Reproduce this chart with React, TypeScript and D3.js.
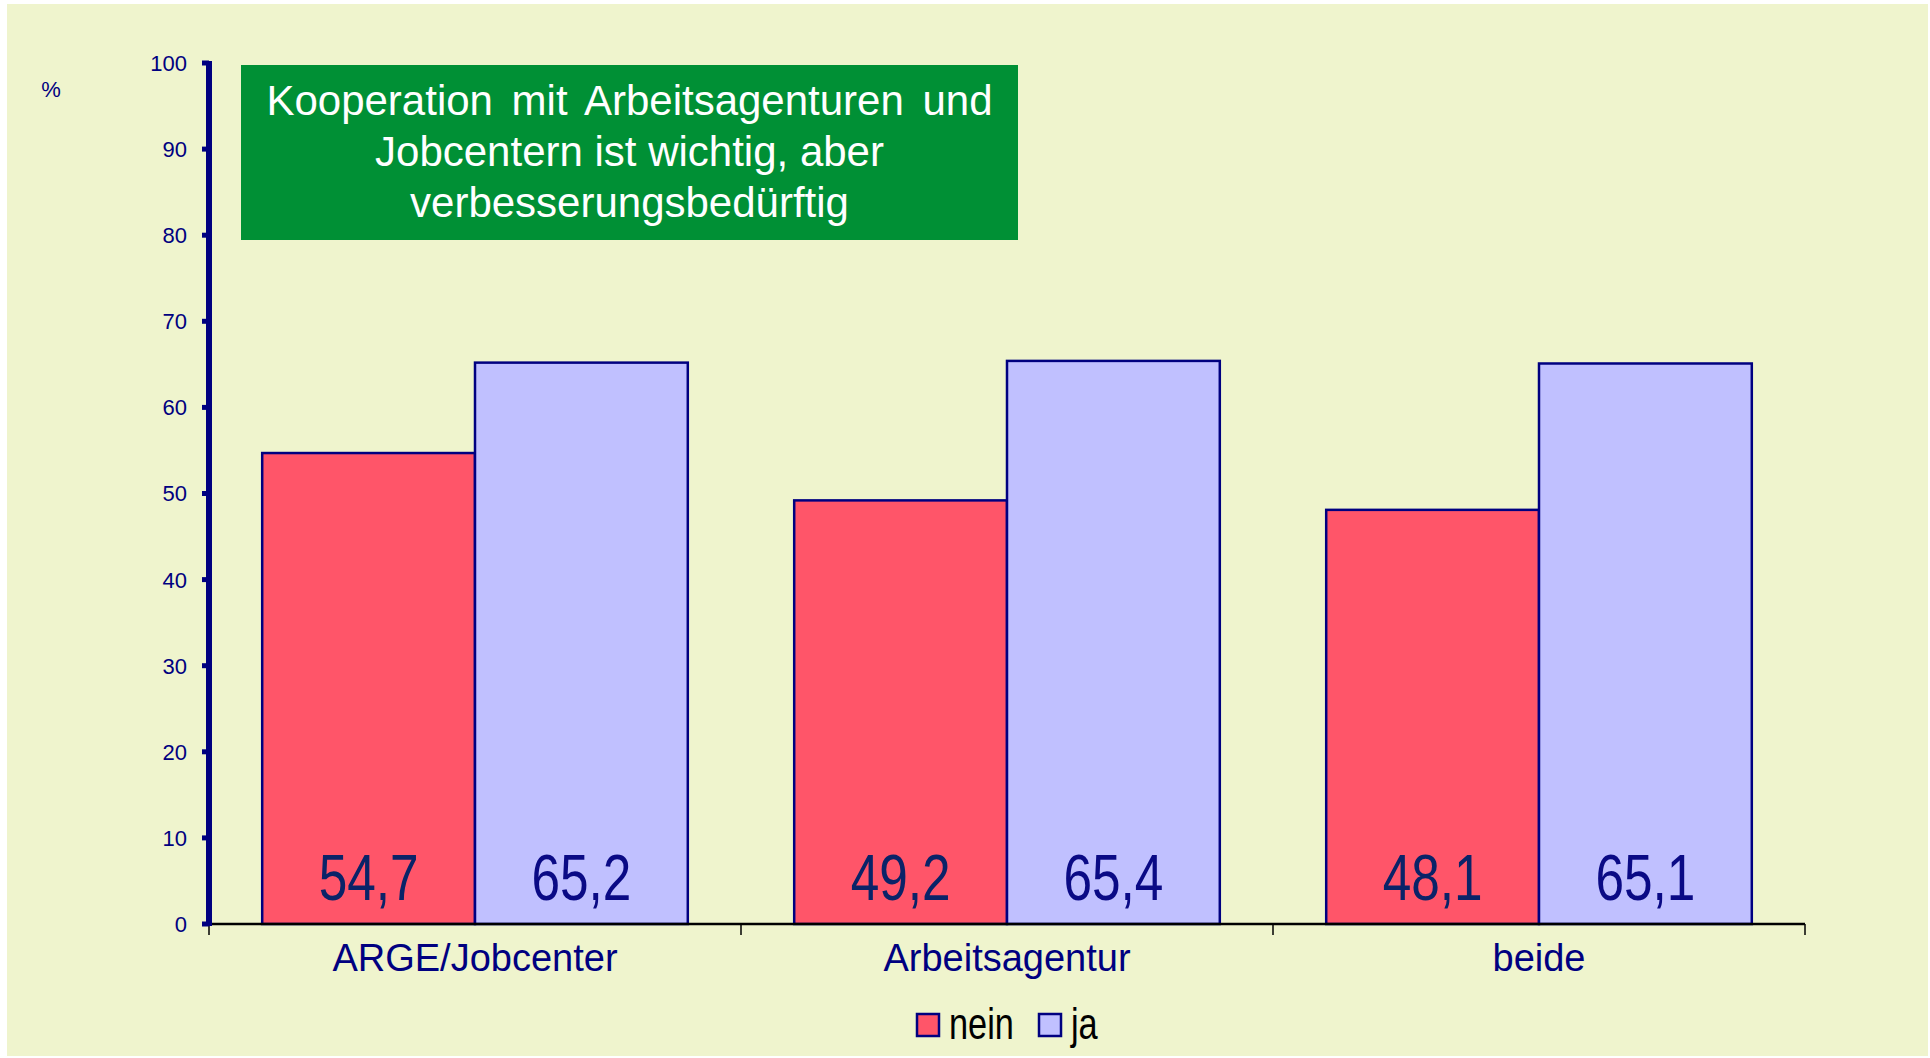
import React from "react";
import * as d3 from "d3";

const categories = ["ARGE/Jobcenter", "Arbeitsagentur", "beide"];
const seriesNames = ["nein", "ja"];
const neinValues = [54.7, 49.2, 48.1];
const jaValues = [65.2, 65.4, 65.1];
const yTicks = [0, 10, 20, 30, 40, 50, 60, 70, 80, 90, 100];
const titleLines = [
  "Kooperation mit Arbeitsagenturen und",
  "Jobcentern ist wichtig, aber",
  "verbesserungsbedürftig",
];

const W = 1930;
const H = 1058;
const NAVY = "#000080";
const FILLS = ["#FF5569", "#C0C0FF"];
const LABEL_COLORS = ["#0a2368", "#0a0a85"];
const FONT = "'Liberation Sans', Arial, sans-serif";

export default function App() {
  const x0 = d3.scaleBand<string>().domain(categories).range([209, 1805]).padding(0);
  const x1 = d3
    .scaleBand<string>()
    .domain(seriesNames)
    .range([x0.bandwidth() * 0.1, x0.bandwidth() * 0.9])
    .padding(0);
  const y = d3.scaleLinear().domain([0, 100]).range([924, 63]);

  const series = [neinValues, jaValues];
  const fmt = (v: number) => d3.format(".1f")(v).replace(".", ",");

  return (
    <svg
      width={W}
      height={H}
      style={{ position: "absolute", left: 0, top: 0, display: "block" }}
      fontFamily={FONT}
    >
      <rect x={0} y={0} width={W} height={H} fill="#ffffff" />
      <rect x={7} y={4} width={1921} height={1052} fill="#EFF4CD" />

      {/* bars */}
      {categories.map((c, ci) =>
        seriesNames.map((s, si) => {
          const v = series[si][ci];
          const bx = (x0(c) as number) + (x1(s) as number);
          const bw = x1.bandwidth();
          return (
            <g key={c + s}>
              <rect
                x={bx}
                y={y(v)}
                width={bw}
                height={y(0) - y(v)}
                fill={FILLS[si]}
                stroke={NAVY}
                strokeWidth={2.5}
              />
              <text
                transform={`translate(${bx + bw / 2},${900}) scale(0.79,1)`}
                textAnchor="middle"
                fontSize={65}
                fill={LABEL_COLORS[si]}
              >
                {fmt(v)}
              </text>
            </g>
          );
        })
      )}

      {/* x axis */}
      <line x1={209} x2={1805} y1={y(0)} y2={y(0)} stroke="#000" strokeWidth={2.5} />
      {[...categories.map((c) => x0(c) as number), 1805].map((t, i) => (
        <line key={i} x1={t} x2={t} y1={y(0)} y2={y(0) + 11} stroke="#000" strokeWidth={1.5} />
      ))}
      {categories.map((c) => (
        <text
          key={c}
          x={(x0(c) as number) + x0.bandwidth() / 2}
          y={971}
          textAnchor="middle"
          fontSize={38}
          fill={NAVY}
        >
          {c}
        </text>
      ))}

      {/* y axis */}
      <line x1={209} x2={209} y1={y(100) - 2} y2={y(0) + 2} stroke={NAVY} strokeWidth={6} />
      {yTicks.map((t) => (
        <g key={t}>
          <line x1={202} x2={209} y1={y(t)} y2={y(t)} stroke={NAVY} strokeWidth={5} />
          <text x={187} y={y(t)} dy="0.36em" textAnchor="end" fontSize={22} fill={NAVY}>
            {t}
          </text>
        </g>
      ))}
      <text x={51} y={97} textAnchor="middle" fontSize={22} fill={NAVY}>
        %
      </text>

      {/* title box */}
      <rect x={241} y={65} width={777} height={175} fill="#009035" />
      {titleLines.map((l, i) => (
        <text
          key={i}
          x={629.5}
          y={115 + i * 51}
          textAnchor="middle"
          fontSize={42}
          fill="#ffffff"
          wordSpacing={i === 0 ? 7 : 0}
        >
          {l}
        </text>
      ))}

      {/* legend */}
      {seriesNames.map((s, i) => {
        const lx = i === 0 ? 917 : 1039;
        return (
          <g key={s}>
            <rect x={lx} y={1014} width={22} height={22} fill={FILLS[i]} stroke={NAVY} strokeWidth={2.5} />
            <text
              transform={`translate(${lx + 32},${1039}) scale(0.78,1)`}
              fontSize={44}
              fill="#000"
            >
              {s}
            </text>
          </g>
        );
      })}
    </svg>
  );
}
